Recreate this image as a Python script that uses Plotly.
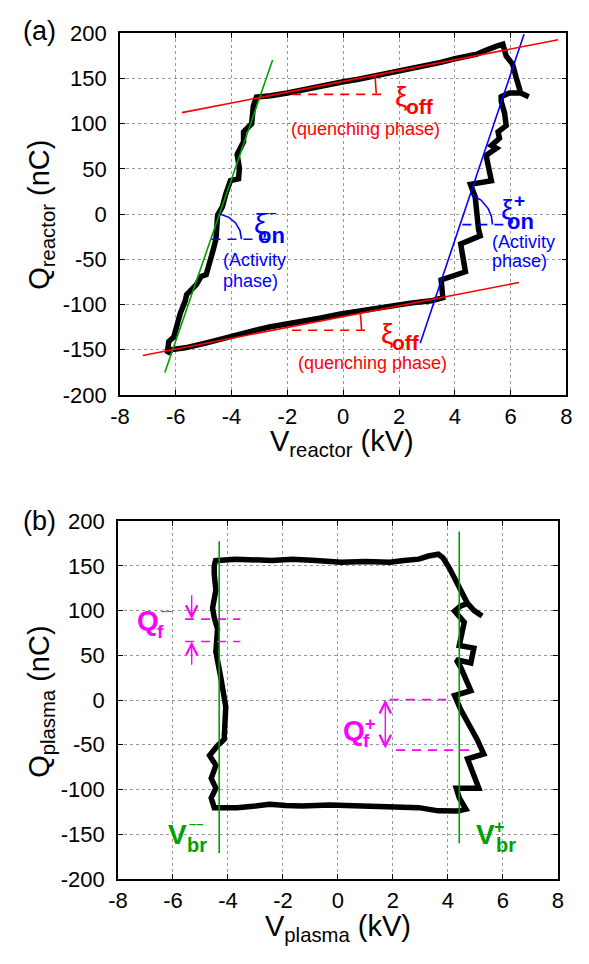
import plotly.graph_objects as go

W, H = 589, 964

# ---------------- data: panel (a) reactor Lissajous ----------------
v_reactor = [6.65, 6.36, 6.19, 6.07, 5.84, 5.72, 5.50, 5.37, 5.00, 4.79, 4.40, 4.00, 3.50, 3.05,
             2.50, 2.00, 1.50, 1.00, 0.50, 0.00, -0.50, -1.00, -1.48, -2.00, -2.60, -3.11,
             -3.22, -3.25, -3.28, -3.57, -3.57, -3.80, -3.72, -3.75, -4.04, -4.21, -4.33, -4.50,
             -4.56, -4.68, -4.79, -4.91, -5.09, -5.26, -5.61, -5.66, -5.84, -5.95, -6.07, -6.25,
             -6.30, -6.13, -5.66, -4.97, -4.40, -3.81, -3.20, -2.64, -2.00, -1.48, -0.80, -0.09,
             0.80, 1.65, 2.40, 3.16, 3.57, 3.51, 4.38, 4.21, 4.91, 4.85, 4.73, 4.56, 5.31, 5.14,
             5.14, 5.49, 5.31, 5.60, 5.55, 5.84, 5.78, 5.66, 5.66, 5.95, 6.36, 6.65]
q_reactor = [130, 134, 152, 166, 175, 188, 186, 184, 180, 177, 175, 172, 168, 165,
             162, 159, 155.5, 152, 149, 146.5, 143, 140, 136.5, 134, 131, 129.6,
             119.5, 110, 100, 91, 80, 66, 51, 39, 37, 22, 8, -1,
             -28, -42, -53, -67, -69, -78, -89, -96, -110, -121, -136, -141,
             -154, -150, -148, -143, -138, -134, -129, -125, -122, -119.5, -115, -110.5,
             -106, -101.5, -98.5, -96, -92.5, -72.8, -63.8, -33, -24, -17, 19, 33, 37, 62,
             65.5, 73, 76, 84, 91, 98, 112, 125, 130, 134, 134, 130]

# fitted lines (panel a)
green_a_v, green_a_q = [-6.39, -2.53], [-175.2, 170.6]
blue_a_v, blue_a_q = [2.76, 6.48], [-142.9, 199.0]
red_up_v, red_up_q = [-5.78, 7.70], [112.3, 193.0]
red_lo_v, red_lo_q = [-7.18, 6.30], [-156.5, -75.7]

# ---------------- data: panel (b) plasma ----------------
v_plasma = [5.24, 4.95, 4.71, 4.41, 4.06, 3.82, 3.65, 3.29, 2.94, 2.40, 1.88, 1.00, 0.11, -0.80,
            -1.66, -2.40, -3.00, -3.75, -4.45, -4.50, -4.50, -4.44, -4.56, -4.50, -4.38, -4.44,
            -4.26, -4.08, -4.14, -4.38, -4.67, -4.44, -4.61, -4.44, -4.61, -4.50, -4.03, -3.67,
            -3.00, -2.49, -1.90, -1.31, -0.30, 0.70, 1.50, 2.35, 2.94, 3.65, 4.35, 4.65, 4.41,
            4.30, 5.12, 4.71, 5.30, 5.06, 4.47, 4.24, 4.83, 4.47, 4.30, 4.83, 4.94, 4.41, 4.47,
            4.59, 4.24, 4.45, 4.71]
q_plasma = [94, 100, 108, 127, 147, 159, 163, 161, 157.5, 156, 154, 155, 154, 156,
            157.5, 156, 156.5, 157.5, 155.8, 150, 141, 123, 103, 92, 79.5, 54,
            25, -7.6, -44, -51, -62, -73, -87.6, -98.5, -109.4, -120.3, -120.3, -120.3,
            -118.5, -116.6, -118, -118.4, -117.5, -118.4, -117.8, -118.4, -120.3, -123.9, -124, -122, -109.4,
            -98.5, -98.5, -65.8, -60.3, -44, -11.3, 5, 10.5, 36, 45, 41.4, 58, 61, 72,
            87, 99.5, 105, 108]

vbr_minus_v, vbr_minus_q = [-4.32, -4.32], [-171, 177.5]
vbr_plus_v, vbr_plus_q = [4.41, 4.41], [-160, 188.4]

x_ticks = [-8, -6, -4, -2, 0, 2, 4, 6, 8]
x_ticklabels = ["-8", "-6", "-4", "-2", "0", "2", "4", "6", "8"]
y_ticks = [-200, -150, -100, -50, 0, 50, 100, 150, 200]
y_ticklabels = ["-200", "-150", "-100", "-50", "0", "50", "100", "150", "200"]

RED, BLUE, GREEN, MAG = "#ff0000", "#0000ff", "#00a000", "#ff00ff"
FONT = "Liberation Sans, Arial, sans-serif"

fig = go.Figure()

# ---- panel a ----
fig.add_trace(go.Scatter(x=v_reactor, y=q_reactor, mode="lines",
                         line=dict(color="black", width=5.5), xaxis="x", yaxis="y"))
for vx, qy, col in [(green_a_v, green_a_q, GREEN), (blue_a_v, blue_a_q, BLUE),
                    (red_up_v, red_up_q, RED), (red_lo_v, red_lo_q, RED)]:
    fig.add_trace(go.Scatter(x=vx, y=qy, mode="lines", line=dict(color=col, width=1.6),
                             xaxis="x", yaxis="y"))

# angle arcs (annotation geometry)
arcs_a = [
    ([1.184, 1.174, 1.150, 1.118], [133.7, 141.5, 149.1, 154.9], RED),
    ([0.659, 0.654, 0.630, 0.602], [-128.5, -121.7, -114.8, -109.8], RED),
    ([-4.393, -4.096, -3.856, -3.699, -3.643], [-0.2, -3.6, -9.8, -18.2, -27.8], BLUE),
    ([4.593, 4.938, 5.196, 5.311, 5.35], [21.8, 15.6, 6.1, -2.5, -11.6], BLUE),
]
for ax_, ay_, col in arcs_a:
    fig.add_trace(go.Scatter(x=ax_, y=ay_, mode="lines", line=dict(color=col, width=1.6),
                             xaxis="x", yaxis="y"))
dashed_a = [
    ([-1.83, 1.48], [132.5, 132.5], RED),
    ([-1.83, 0.96], [-128.5, -128.5], RED),
    ([-4.72, -2.63], [-27.8, -27.8], BLUE),
    ([4.27, 5.84], [-11.6, -11.6], BLUE),
]
for dx, dy, col in dashed_a:
    fig.add_trace(go.Scatter(x=dx, y=dy, mode="lines",
                             line=dict(color=col, width=1.6, dash="9px,7px"),
                             xaxis="x", yaxis="y"))

# ---- panel b ----
fig.add_trace(go.Scatter(x=v_plasma, y=q_plasma, mode="lines",
                         line=dict(color="black", width=5.5), xaxis="x2", yaxis="y2"))
for vx, qy in [(vbr_minus_v, vbr_minus_q), (vbr_plus_v, vbr_plus_q)]:
    fig.add_trace(go.Scatter(x=vx, y=qy, mode="lines", line=dict(color=GREEN, width=1.6),
                             xaxis="x2", yaxis="y2"))
dashed_b = [
    ([-5.56, -3.55], [90.4, 90.4]),
    ([-5.56, -3.55], [65.5, 65.5]),
    ([1.88, 3.94], [0.5, 0.5]),
    ([2.11, 4.82], [-56, -56]),
]
for dx, dy in dashed_b:
    fig.add_trace(go.Scatter(x=dx, y=dy, mode="lines",
                             line=dict(color=MAG, width=1.6, dash="9px,7px"),
                             xaxis="x2", yaxis="y2"))

axis_common = dict(showgrid=True, gridcolor="#9a9a9a", griddash="dot", gridwidth=1,
                   zeroline=False, showline=True, linecolor="black", linewidth=1.6,
                   mirror="allticks", ticks="inside", ticklen=5, tickwidth=1.4, tickcolor="black",
                   tickfont=dict(family=FONT, size=22, color="black"), fixedrange=True)

def xax(domain, anchor):
    d = dict(axis_common)
    d.update(domain=domain, anchor=anchor, range=[-8, 8], tickmode="array",
             tickvals=x_ticks, ticktext=x_ticklabels, ticklabelstandoff=1)
    return d

def yax(domain, anchor):
    d = dict(axis_common)
    d.update(domain=domain, anchor=anchor, range=[-200, 200], tickmode="array",
             tickvals=y_ticks, ticktext=y_ticklabels, ticklabelstandoff=7)
    return d

def fx(px):
    return px / W

def fy(py):
    return 1 - py / H

fig.update_layout(
    width=W, height=H, autosize=False, showlegend=False,
    margin=dict(l=0, r=0, t=0, b=0), paper_bgcolor="white", plot_bgcolor="white",
    xaxis=xax([fx(113), fx(572)], "y"),
    yaxis=yax([fy(393), fy(22)], "x"),
    xaxis2=xax([fx(111), fx(563.3)], "y2"),
    yaxis2=yax([fy(890), fy(522.7)], "x2"),
)

ann = []

def txt(px, py, s, size, color="black", bold=False, xanchor="center", angle=0):
    if bold:
        s = "<b>" + s + "</b>"
    ann.append(dict(x=fx(px), y=fy(py), xref="paper", yref="paper", text=s, showarrow=False,
                    xanchor=xanchor, yanchor="middle", textangle=angle,
                    font=dict(family=FONT, size=size, color=color)))

# panel labels and axis titles
txt(30, 20, "(a)", 27)
txt(30, 523, "(b)", 27)
txt(31, 208, "Q<sub>reactor</sub> (nC)", 29, angle=-90)
txt(341, 442, "V<sub>reactor</sub> (kV)", 29)
txt(31, 708, "Q<sub>plasma</sub> (nC)", 29, angle=-90)
txt(337, 940, "V<sub>plasma</sub> (kV)", 29)

# panel a annotation texts
txt(402.5, 87, "ξ", 28, RED)
txt(405, 97, "off", 21, RED, True, "left")
txt(365, 120, "(quenching phase)", 18, RED)
txt(388, 330, "ξ", 28, RED)
txt(391, 339, "off", 21, RED, True, "left")
txt(373, 360, "(quenching phase)", 18, RED)
txt(257, 217, "ξ", 28, BLUE)
txt(253, 229, "on", 22, BLUE, True, "left")
txt(266, 206, "––", 13, BLUE, True)
txt(217, 255, "(Activity", 18, BLUE, False, "left")
txt(217, 276, "phase)", 18, BLUE, False, "left")
txt(511, 203, "ξ", 28, BLUE)
txt(524, 194, "+", 19, BLUE, True)
txt(509, 215, "on", 22, BLUE, True, "left")
txt(493, 236, "(Activity", 18, BLUE, False, "left")
txt(493, 256, "phase)", 18, BLUE, False, "left")

# panel b annotation texts
txt(141.5, 625, "Q", 28, MAG, True)
txt(155, 636, "f", 19, MAG, True)
txt(161, 615, "––", 10, MAG, True)
txt(353.5, 738, "Q", 28, MAG, True)
txt(371, 731, "+", 18, MAG, True)
txt(366.5, 748, "f", 19, MAG, True)
txt(172, 844, "V", 28, GREEN, True)
txt(192, 855, "br", 20, GREEN, True)
txt(191.5, 833, "––", 13, GREEN, True)
txt(489, 844, "V", 28, GREEN, True)
txt(503.5, 837, "+", 18, GREEN, True)
txt(510, 855, "br", 20, GREEN, True)

# arrows (panel b)
arrows_b = [(-5.32, 118.7, -5.32, 90.4, "end"), (-5.32, 37.7, -5.32, 65.5, "end"),
            (1.72, -56, 1.72, 0.5, "end+start")]
for x0, y0, x1, y1, side in arrows_b:
    ann.append(dict(x=x1, y=y1, ax=x0, ay=y0, xref="x2", yref="y2", axref="x2", ayref="y2",
                    showarrow=True, arrowhead=5, arrowsize=1.6, arrowwidth=1.4,
                    arrowcolor=MAG, arrowside=side, text=""))

fig.update_layout(annotations=ann)
fig.write_html("out.html")
